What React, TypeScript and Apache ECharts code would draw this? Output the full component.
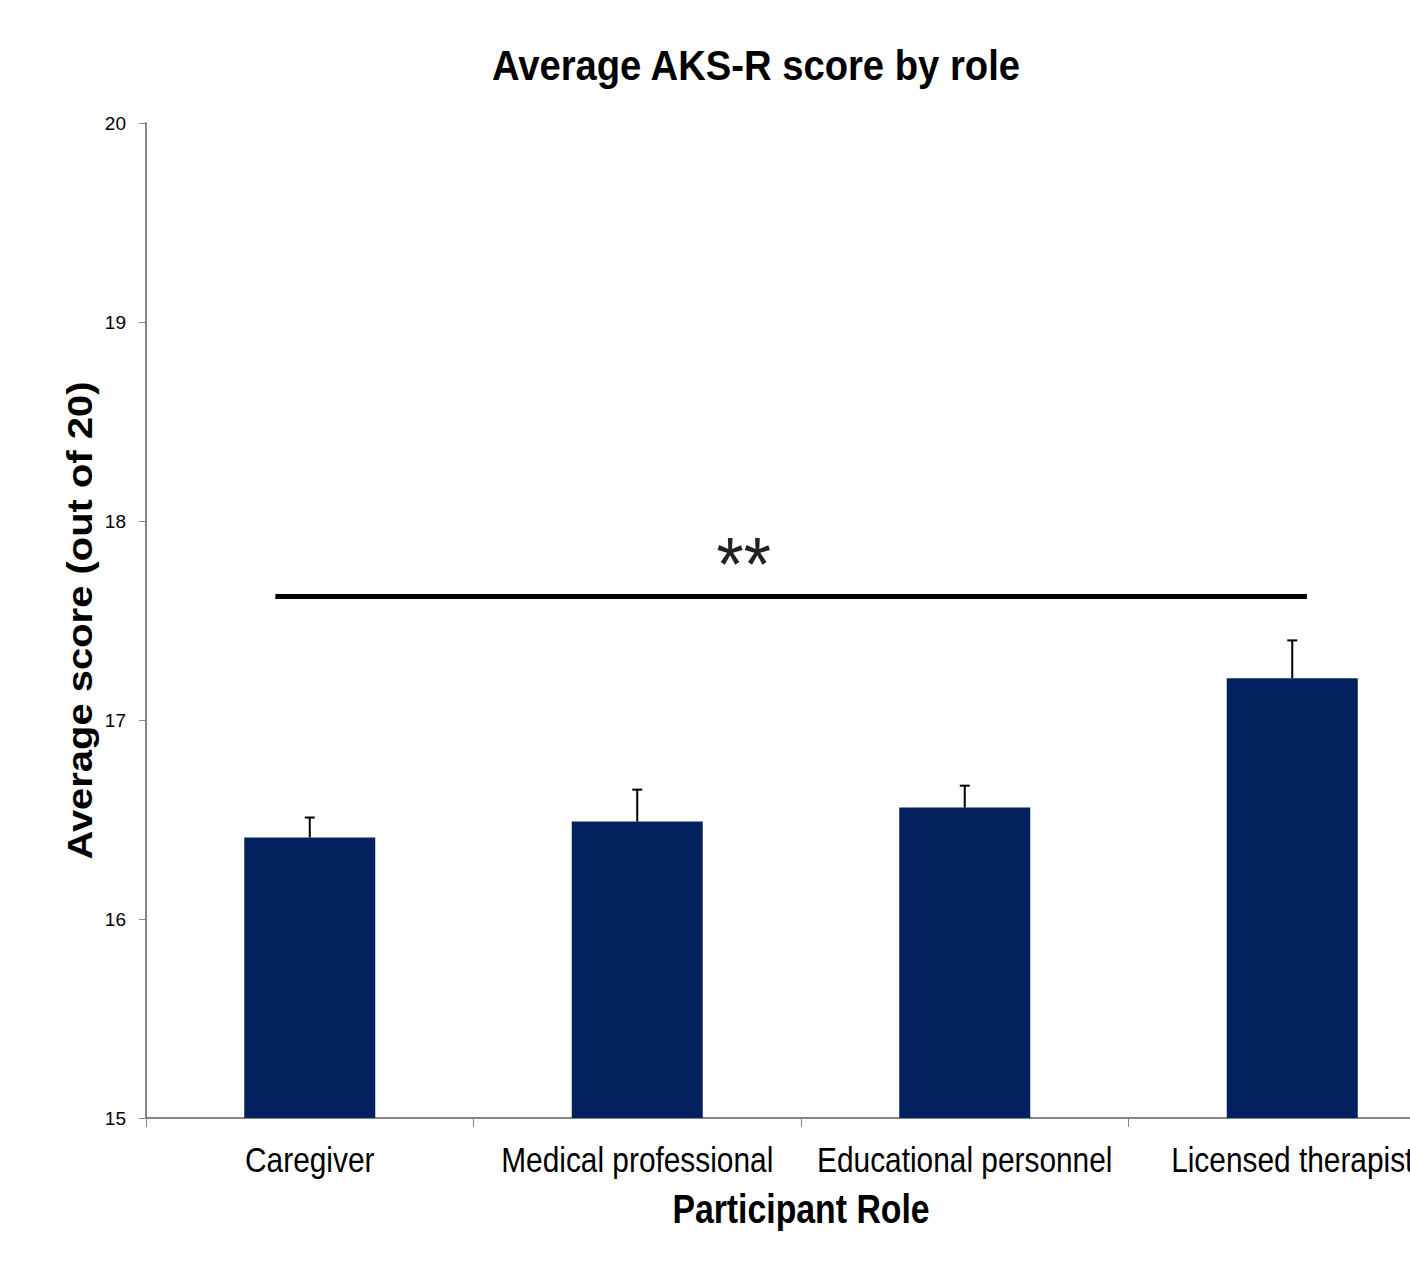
import React, { useEffect, useRef } from "react";
import * as echarts from "echarts";

const categories = ["Caregiver", "Medical professional", "Educational personnel", "Licensed therapist"];
const means = [16.41, 16.49, 16.56, 17.21];
const errors = [0.1, 0.16, 0.11, 0.19];
const yTicks = { min: 15, max: 20, interval: 1 };
const sigLine = { from: 0, to: 3, value: 17.62, label: "**" };
const titleText = "Average AKS-R score by role";
const xAxisName = "Participant Role";
const yAxisName = "Average score (out of 20)";

const BAR_COLOR = "#03215F";
const AXIS_COLOR = "#868686";
const SANS = "'Liberation Sans', Arial, sans-serif";

export default function App() {
  const ref = useRef<HTMLDivElement>(null);
  useEffect(() => {
    if (!ref.current) return;
    const chart = echarts.init(ref.current, null, { renderer: "svg" });
    const option: any = {
      animation: false,
      backgroundColor: "#ffffff",
      grid: { left: 146, top: 123, width: 1310, height: 995, containLabel: false },
      xAxis: {
        type: "category",
        data: categories,
        boundaryGap: true,
        axisLine: { lineStyle: { color: AXIS_COLOR, width: 2 } },
        axisTick: { show: true, alignWithLabel: false, length: 9, lineStyle: { color: AXIS_COLOR, width: 1 } },
        axisLabel: { show: false },
        splitLine: { show: false },
      },
      yAxis: {
        type: "value",
        min: yTicks.min,
        max: yTicks.max,
        interval: yTicks.interval,
        axisLine: { show: true, lineStyle: { color: AXIS_COLOR, width: 2 } },
        axisTick: { show: true, length: 7, lineStyle: { color: AXIS_COLOR, width: 1 } },
        axisLabel: { margin: 20, fontFamily: SANS, fontSize: 19, color: "#000" },
        splitLine: { show: false },
      },
      series: [
        {
          type: "bar",
          data: means,
          barWidth: "40%",
          itemStyle: { color: BAR_COLOR },
          z: 2,
        },
        {
          type: "custom",
          z: 3,
          data: means.map((m, i) => [i, m, m + errors[i]]),
          renderItem: (params: any, api: any) => {
            const i = api.value(0);
            const lo = api.coord([i, api.value(1)]);
            const hi = api.coord([i, api.value(2)]);
            const cap = 5;
            const style = { stroke: "#000", lineWidth: 2 };
            return {
              type: "group",
              children: [
                { type: "line", shape: { x1: lo[0], y1: lo[1], x2: hi[0], y2: hi[1] }, style },
                { type: "line", shape: { x1: hi[0] - cap, y1: hi[1], x2: hi[0] + cap, y2: hi[1] }, style },
              ],
            };
          },
        },
        {
          type: "custom",
          z: 4,
          data: [[sigLine.from, sigLine.to, sigLine.value]],
          renderItem: (params: any, api: any) => {
            const a = api.coord([api.value(0), api.value(2)]);
            const b = api.coord([api.value(1), api.value(2)]);
            const band = api.size([1, 0])[0];
            const x1 = a[0] - 0.105 * band;
            const x2 = b[0] + 0.045 * band;
            return {
              type: "group",
              children: [
                { type: "line", shape: { x1, y1: a[1], x2, y2: a[1] }, style: { stroke: "#000", lineWidth: 5 } },
                {
                  type: "text",
                  x: a[0] + 1.325 * band,
                  y: a[1] - 33,
                  scaleX: 0.92,
                  style: {
                    text: sigLine.label,
                    fontFamily: SANS,
                    fontSize: 76,
                    fill: "#222",
                    align: "center",
                    verticalAlign: "middle",
                  },
                },
              ],
            };
          },
        },
      ],
    };
    chart.setOption(option);

    const base = chart.convertToPixel({ gridIndex: 0 }, [0, yTicks.min]) as number[];
    const top = chart.convertToPixel({ gridIndex: 0 }, [0, yTicks.max]) as number[];
    const last = chart.convertToPixel({ gridIndex: 0 }, [categories.length - 1, yTicks.min]) as number[];
    const axisY = base[1];
    const band = (last[0] - base[0]) / (categories.length - 1);
    const gridLeft = base[0] - band / 2;
    const gridMid = gridLeft + (band * categories.length) / 2;

    const labelGraphics = categories.map((c, i) => {
      const p = chart.convertToPixel({ gridIndex: 0 }, [i, yTicks.min]) as number[];
      return {
        type: "text",
        x: p[0],
        y: axisY + 42,
        scaleX: 0.853,
        style: {
          text: c,
          fontFamily: SANS,
          fontSize: 35,
          fill: "#000",
          align: "center",
          verticalAlign: "middle",
        },
      };
    });

    chart.setOption({
      graphic: [
        {
          type: "text",
          x: gridMid - 45,
          y: 66,
          scaleX: 0.91,
          style: {
            text: titleText,
            fontFamily: SANS,
            fontWeight: "bold",
            fontSize: 42,
            fill: "#000",
            align: "center",
            verticalAlign: "middle",
          },
        },
        ...labelGraphics,
        {
          type: "text",
          x: gridMid,
          y: axisY + 91,
          scaleX: 0.845,
          style: {
            text: xAxisName,
            fontFamily: SANS,
            fontWeight: "bold",
            fontSize: 40,
            fill: "#000",
            align: "center",
            verticalAlign: "middle",
          },
        },
        {
          type: "text",
          x: gridLeft - 66,
          y: (axisY + top[1]) / 2,
          rotation: Math.PI / 2,
          scaleX: 1.11,
          style: {
            text: yAxisName,
            fontFamily: SANS,
            fontWeight: "bold",
            fontSize: 36,
            fill: "#000",
            align: "center",
            verticalAlign: "middle",
          },
        },
      ],
    });
    return () => chart.dispose();
  }, []);
  return (
    <div style={{ position: "absolute", left: 0, top: 0, width: 1410, height: 1267, overflow: "hidden", background: "#fff" }}>
      <div ref={ref} style={{ width: 1460, height: 1267 }} />
    </div>
  );
}
